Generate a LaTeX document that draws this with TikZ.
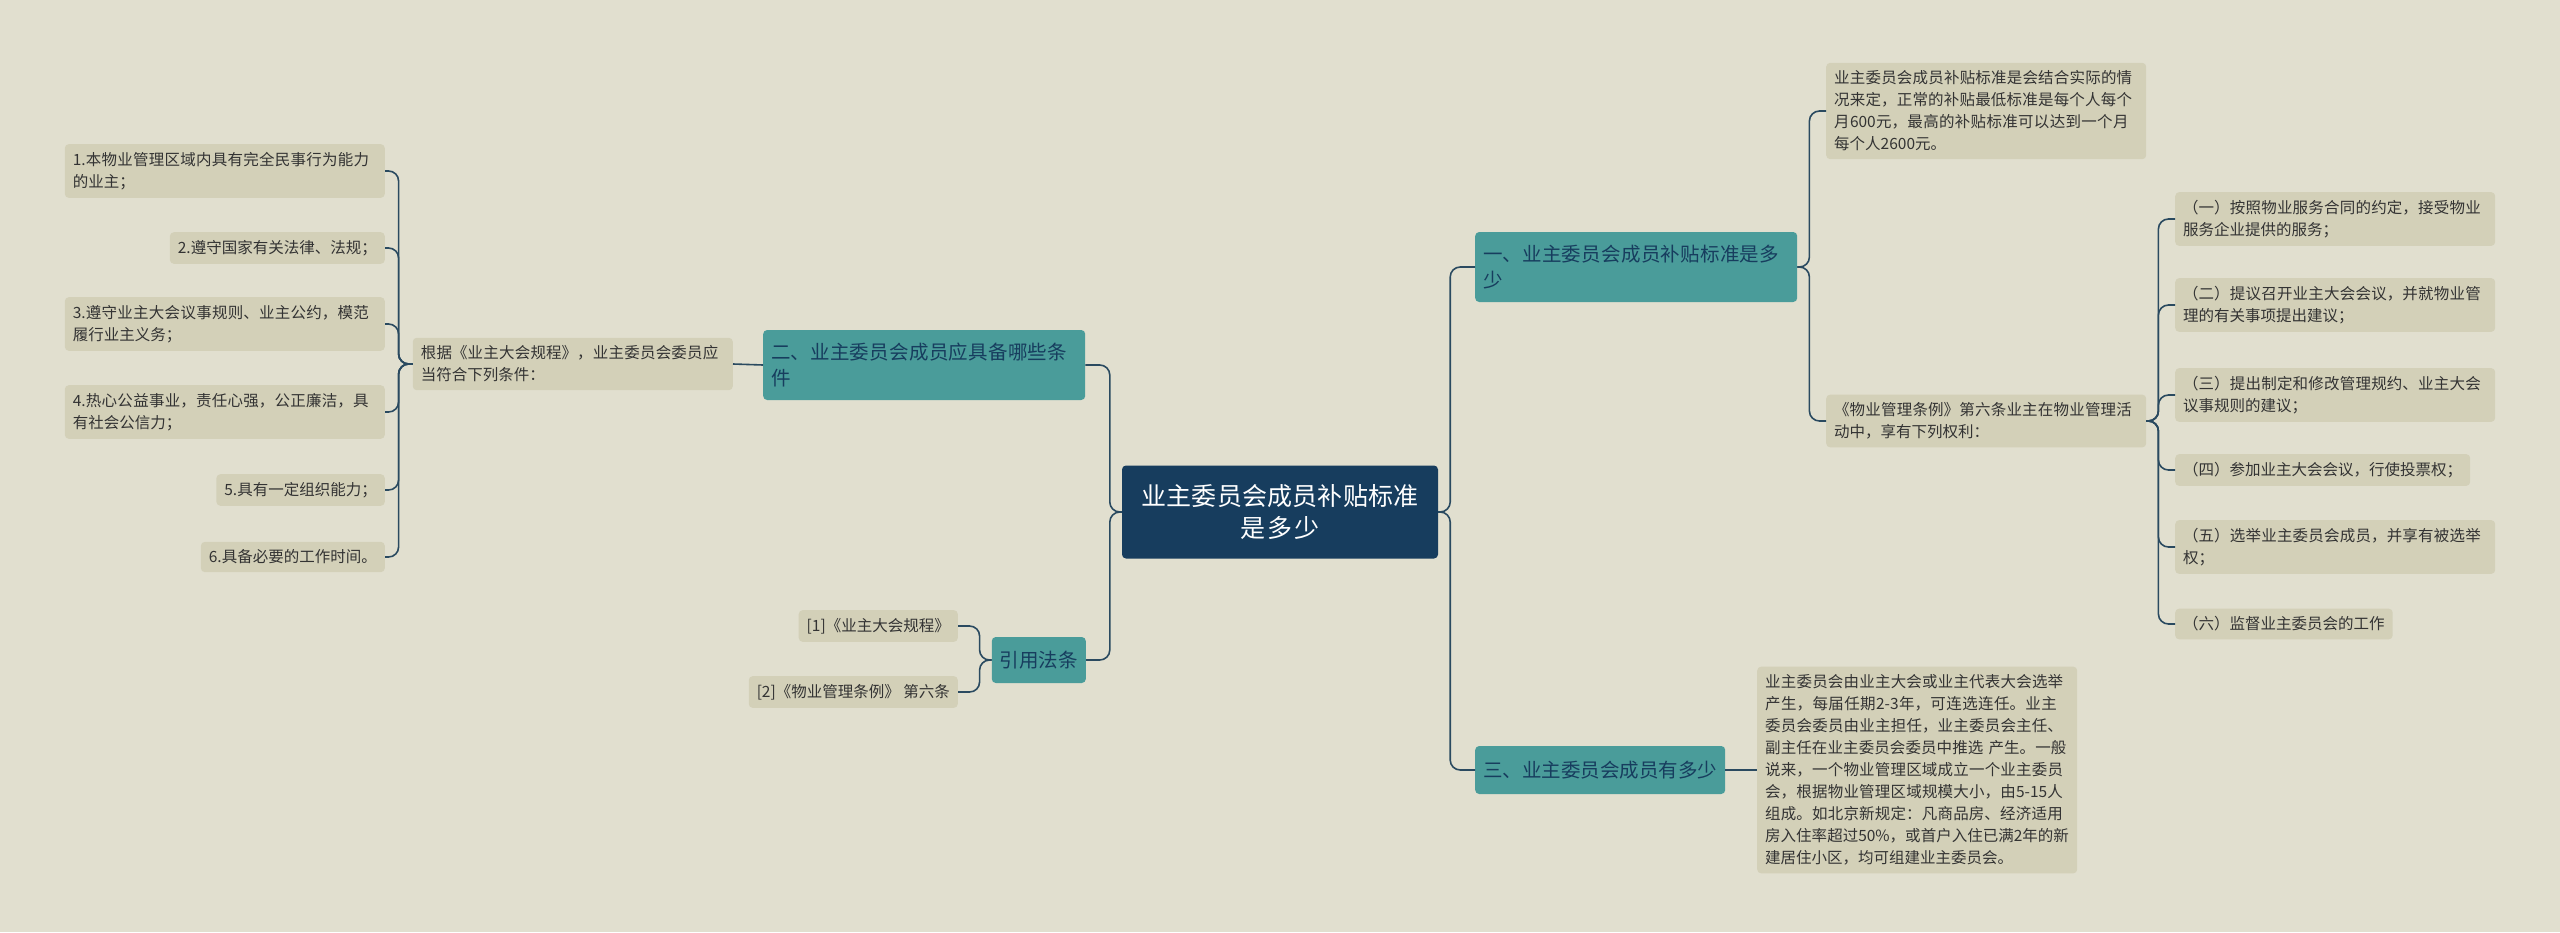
\documentclass[tikz,border=0pt]{standalone}
\usepackage{fontspec}
\setmainfont{Noto Sans CJK SC}
\XeTeXlinebreaklocale "zh"
\XeTeXlinebreakskip=0pt plus 1pt
\definecolor{bgcol}{HTML}{E1DFCF}
\definecolor{rootcol}{HTML}{173D5E}
\definecolor{branchcol}{HTML}{4A9C9A}
\definecolor{leafcol}{HTML}{D3D0B8}
\definecolor{linecol}{HTML}{2A4A60}
\tikzset{
  root/.style={fill=rootcol,text=white,rounded corners=4pt,align=center,
    font=\fontsize{25}{32}\selectfont,inner sep=8pt,minimum height=93pt,text width=300pt},
  branch/.style={fill=branchcol,text=rootcol,rounded corners=4pt,align=left,
    font=\fontsize{19.5}{26}\selectfont,inner sep=8pt,anchor=west},
  leaf/.style={fill=leafcol,text=black!80,rounded corners=4pt,align=left,
    font=\fontsize{15.5}{22}\selectfont,inner sep=8pt},
  link/.style={draw=linecol,line width=1.6pt,rounded corners=10pt},
}
\begin{document}
\begin{tikzpicture}[x=1pt,y=-1pt]
	\useasboundingbox[fill=bgcol] (0,0) rectangle (2560,932);
	% root
	\node[root] (c) at (1280,512) {业主委员会成员补贴标准\\是多少};
	% branches
	\node[branch,text width=306pt,minimum height=70pt] (b1) at (1475,267) {一、业主委员会成员补贴标准是多少};
	\node[branch,text width=306pt,minimum height=70pt] (b2) at (763,365) {二、业主委员会成员应具备哪些条件};
	\node[branch,minimum height=48pt] (b3) at (1475,770) {三、业主委员会成员有多少};
	\node[branch,minimum height=46pt,anchor=east] (b4) at (1086,660) {引用法条};
	% leaves of b1
	\node[leaf,text width=304pt,anchor=west] (r1a) at (1826,111) {业主委员会成员补贴标准是会结合实际的情况来定，正常的补贴最低标准是每个人每个月600元，最高的补贴标准可以达到一个月每个人2600元。};
	\node[leaf,text width=304pt,anchor=west] (r1b) at (1826,421) {《物业管理条例》第六条业主在物业管理活动中，享有下列权利：};
	\node[leaf,text width=304pt,anchor=west] (s1) at (2175,219) {（一）按照物业服务合同的约定，接受物业服务企业提供的服务；};
	\node[leaf,text width=304pt,anchor=west] (s2) at (2175,305) {（二）提议召开业主大会会议，并就物业管理的有关事项提出建议；};
	\node[leaf,text width=304pt,anchor=west] (s3) at (2175,395) {（三）提出制定和修改管理规约、业主大会议事规则的建议；};
	\node[leaf,anchor=west] (s4) at (2175,470) {（四）参加业主大会会议，行使投票权；};
	\node[leaf,text width=304pt,anchor=west] (s5) at (2175,547) {（五）选举业主委员会成员，并享有被选举权；};
	\node[leaf,anchor=west] (s6) at (2175,624) {（六）监督业主委员会的工作};
	% leaf of b3
	\node[leaf,text width=304pt,anchor=west] (r3) at (1757,770) {业主委员会由业主大会或业主代表大会选举产生，每届任期2-3年，可连选连任。业主委员会委员由业主担任，业主委员会主任、副主任在业主委员会委员中推选 产生。一般说来，一个物业管理区域成立一个业主委员会，根据物业管理区域规模大小，由5-15人组成。如北京新规定：凡商品房、经济适用房入住率超过50\%，或首户入住已满2年的新建居住小区，均可组建业主委员会。};
	% leaves of b2
	\node[leaf,text width=304pt,anchor=east] (l0) at (733,364) {根据《业主大会规程》，业主委员会委员应当符合下列条件：};
	\node[leaf,text width=304pt,anchor=east] (t1) at (385,171) {1.本物业管理区域内具有完全民事行为能力的业主；};
	\node[leaf,anchor=east] (t2) at (385,248) {2.遵守国家有关法律、法规；};
	\node[leaf,text width=304pt,anchor=east] (t3) at (385,324) {3.遵守业主大会议事规则、业主公约，模范履行业主义务；};
	\node[leaf,text width=304pt,anchor=east] (t4) at (385,412) {4.热心公益事业，责任心强，公正廉洁，具有社会公信力；};
	\node[leaf,anchor=east] (t5) at (385,490) {5.具有一定组织能力；};
	\node[leaf,anchor=east] (t6) at (385,557) {6.具备必要的工作时间。};
	% leaves of b4
	\node[leaf,anchor=east] (q1) at (958,626) {[1]《业主大会规程》};
	\node[leaf,anchor=east] (q2) at (958,692) {[2]《物业管理条例》 第六条};
	% connectors
	\foreach \t in {b1,b3}
		\draw[link] (c.east) -- ++(12,0) |- (\t.west);
	\foreach \t in {b2,b4}
		\draw[link] (c.west) -- ++(-12,0) |- (\t.east);
	\foreach \t in {r1a,r1b}
		\draw[link] (b1.east) -- ++(12,0) |- (\t.west);
	\foreach \t in {s1,s2,s3,s4,s5,s6}
		\draw[link] (r1b.east) -- ++(12,0) |- (\t.west);
	\draw[link] (b3.east) -- (r3.west);
	\draw[link] (b2.west) -- (l0.east);
	\foreach \t in {t1,t2,t3,t4,t5,t6}
		\draw[link] (l0.west) -- ++(-14,0) |- (\t.east);
	\foreach \t in {q1,q2}
		\draw[link] (b4.west) -- ++(-12,0) |- (\t.east);
\end{tikzpicture}
\end{document}
